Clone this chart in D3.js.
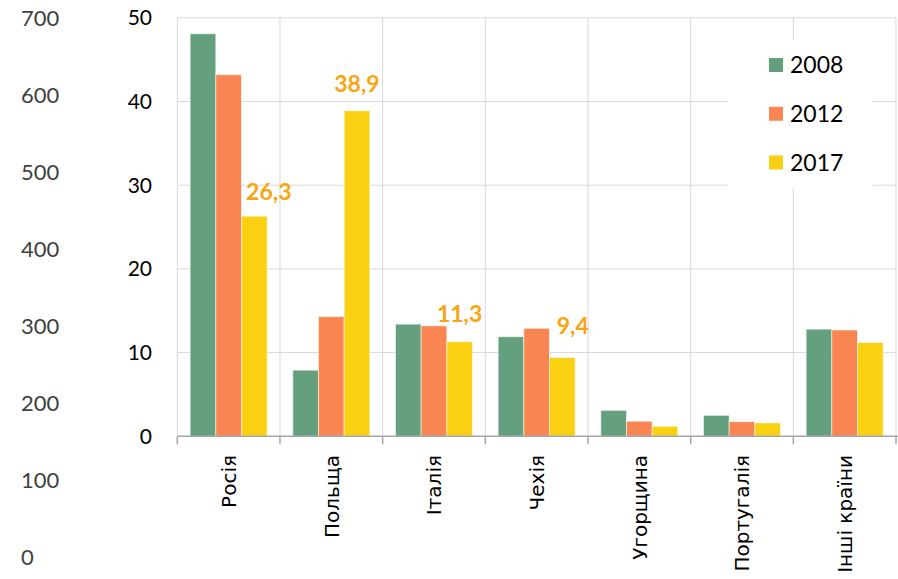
<!DOCTYPE html>
<html>
<head>
<meta charset="utf-8">
<script src="https://cdn.jsdelivr.net/npm/d3@7/dist/d3.min.js"></script>
<style>
  html, body { margin: 0; padding: 0; background: #fff; }
  svg { display: block; }
</style>
</head>
<body>
<svg id="chart" width="898" height="579"></svg>
<script>
// Export shares by destination, %
const categories = ["Росія", "Польща", "Італія", "Чехія", "Угорщина", "Португалія", "Інші країни"];
const seriesNames = ["2008", "2012", "2017"];
const values2008 = [48.1, 7.9, 13.4, 11.9, 3.1, 2.5, 12.8];
const values2012 = [43.2, 14.3, 13.2, 12.9, 1.8, 1.75, 12.7];
const values2017 = [26.3, 38.9, 11.3, 9.4, 1.2, 1.6, 11.2];
const labelled2017 = ["Росія", "Польща", "Італія", "Чехія"];
const yTicks = [0, 10, 20, 30, 40, 50];
const sideTicks = [0, 100, 200, 300, 400, 500, 600, 700];
const seriesColors = ["#64a07e", "#f88552", "#fad013"];

const seriesValues = [values2008, values2012, values2017];

const svg = d3.select("#chart");
const plot = { left: 177.3, right: 896, top: 17.8, bottom: 436.3 };

const x = d3.scaleBand().domain(categories).range([plot.left, plot.right]).padding(0);
const x1 = d3.scaleBand().domain(seriesNames).range([0, x.bandwidth()])
  .paddingInner(0).paddingOuter(0.5);
const y = d3.scaleLinear().domain([0, 50]).range([plot.bottom, plot.top]);
const ySide = d3.scaleLinear().domain([0, 700]).range([557.5, 18]);

const numFont = "Lato, 'Open Sans', sans-serif";
const catFont = "'DejaVu Sans', Verdana, sans-serif";

// gridlines
const grid = svg.append("g").attr("stroke", "#d9d9d9").attr("stroke-width", 1);
grid.selectAll("line.h").data(yTicks.filter(d => d > 0)).join("line")
  .attr("x1", plot.left).attr("x2", plot.right)
  .attr("y1", d => y(d)).attr("y2", d => y(d));
const bounds = categories.map(c => x(c)).concat([plot.right]);
grid.selectAll("line.v").data(bounds).join("line")
  .attr("x1", d => d).attr("x2", d => d)
  .attr("y1", plot.top).attr("y2", plot.bottom);

// bars
const groups = svg.append("g").selectAll("g").data(categories).join("g")
  .attr("transform", c => `translate(${x(c)},0)`);
groups.selectAll("rect")
  .data((c, i) => seriesNames.map((s, k) => ({ s, k, v: seriesValues[k][i] })))
  .join("rect")
  .attr("x", d => x1(d.s))
  .attr("width", x1.bandwidth())
  .attr("y", d => y(d.v))
  .attr("height", d => y(0) - y(d.v))
  .attr("fill", d => seriesColors[d.k])
  .attr("stroke", "rgba(255,255,255,0.55)")
  .attr("stroke-width", 1);

// x axis
const xAxis = svg.append("g");
xAxis.append("line")
  .attr("x1", plot.left).attr("x2", plot.right + 2)
  .attr("y1", plot.bottom).attr("y2", plot.bottom)
  .attr("stroke", "#a6a6a6").attr("stroke-width", 1.5);
xAxis.selectAll("line.t").data(bounds).join("line")
  .attr("x1", d => d).attr("x2", d => d)
  .attr("y1", plot.bottom).attr("y2", plot.bottom + 8)
  .attr("stroke", "#a6a6a6").attr("stroke-width", 1.5);
xAxis.selectAll("text").data(categories).join("text")
  .attr("transform", c => `translate(${x(c) + x.bandwidth() / 2},455) rotate(-90)`)
  .attr("text-anchor", "end")
  .attr("dy", "0.36em")
  .attr("font-family", catFont)
  .attr("font-size", 20)
  .attr("fill", "#000")
  .text(c => c);

// y axis labels
svg.append("g").selectAll("text").data(yTicks).join("text")
  .attr("x", 152).attr("y", d => y(d))
  .attr("dy", "0.36em")
  .attr("text-anchor", "end")
  .attr("font-family", numFont)
  .attr("font-size", 21)
  .attr("fill", "#000")
  .text(d => d);

// secondary scale on the far left
svg.append("g").selectAll("text").data(sideTicks).join("text")
  .attr("x", 21).attr("y", d => ySide(d))
  .attr("dy", "0.36em")
  .attr("text-anchor", "start")
  .attr("font-family", numFont)
  .attr("font-size", 22)
  .attr("fill", "#404040")
  .text(d => d);

// value labels for 2017
const fmt = v => d3.format(".1f")(v).replace(".", ",");
const labelShift = { "Росія": [14.5, -16], "Польща": [0, -19], "Італія": [0, -19.6], "Чехія": [10.5, -23.6] };
svg.append("g").selectAll("text").data(labelled2017).join("text")
  .attr("x", c => x(c) + x1("2017") + x1.bandwidth() / 2 + labelShift[c][0])
  .attr("y", c => y(values2017[categories.indexOf(c)]) + labelShift[c][1])
  .attr("text-anchor", "middle")
  .attr("font-family", numFont)
  .attr("font-weight", "bold")
  .attr("font-size", 23)
  .attr("fill", "#f9a411")
  .text(c => fmt(values2017[categories.indexOf(c)]));

// legend
const legend = svg.append("g");
legend.append("rect").attr("x", 728).attr("y", 40).attr("width", 145).attr("height", 148).attr("fill", "#fff");
const legY = d3.scalePoint().domain(seriesNames).range([65, 162.5]);
const items = legend.selectAll("g").data(seriesNames).join("g")
  .attr("transform", s => `translate(769,${legY(s)})`);
items.append("rect").attr("x", 0).attr("y", -7).attr("width", 14).attr("height", 14)
  .attr("fill", (s, i) => seriesColors[i]);
items.append("text").attr("x", 21).attr("y", 0).attr("dy", "0.36em")
  .attr("font-family", numFont).attr("font-size", 23).attr("fill", "#000")
  .text(s => s);
</script>
</body>
</html>
